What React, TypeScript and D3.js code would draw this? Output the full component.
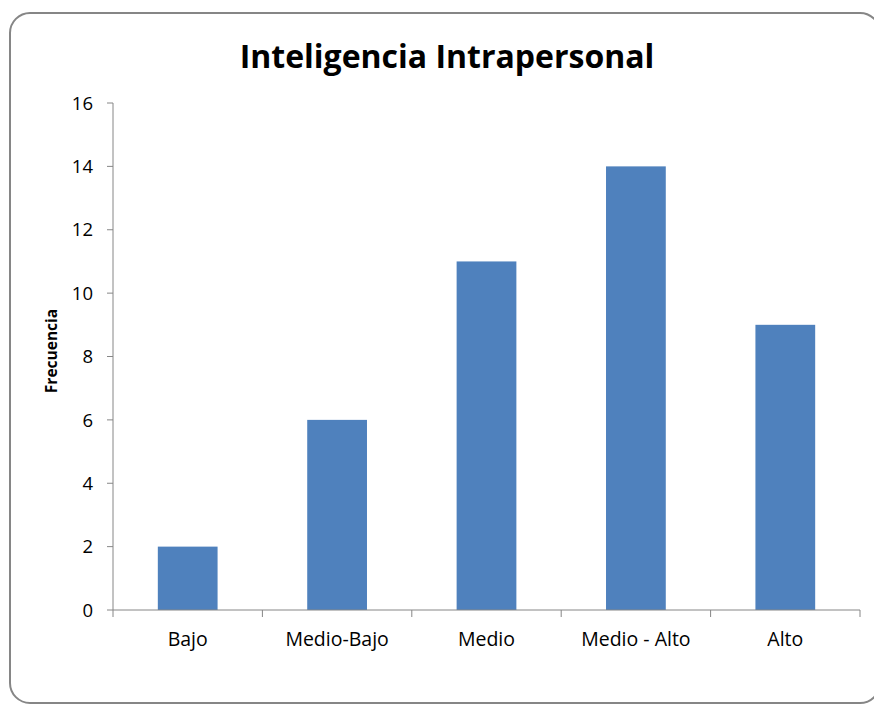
import React from "react";
import * as d3 from "d3";

const categories = ["Bajo", "Medio-Bajo", "Medio", "Medio - Alto", "Alto"];
const values = [2, 6, 11, 14, 9];
const yTicks = [0, 2, 4, 6, 8, 10, 12, 14, 16];
const title = "Inteligencia Intrapersonal";
const yTitle = "Frecuencia";

export default function App() {
  const W = 874, H = 704;
  const left = 113, right = 860, top = 103, bottom = 610;
  const x = d3.scaleBand<string>().domain(categories).range([left, right]).paddingInner(0).paddingOuter(0);
  const y = d3.scaleLinear().domain([0, 16]).range([bottom, top]);
  const bw = x.bandwidth() * 0.4;
  const font = "'Open Sans', 'Liberation Sans', sans-serif";
  const axisColor = "#868686";
  const boundaries = categories.map((c) => x(c)!).concat([right]);
  return (
    <svg width={W} height={H} style={{ position: "absolute", left: 0, top: 0 }}>
      <rect x={0} y={0} width={W} height={H} fill="#fff" />
      <rect x={10} y={13} width={870} height={690} rx={20} ry={20} fill="#fff" stroke="#868686" strokeWidth={2} />
      <text x={447} y={68} textAnchor="middle" fontFamily={font} fontWeight="bold" fontSize={32} fill="#000">{title}</text>
      <text transform={`translate(57,351) rotate(-90)`} textAnchor="middle" fontFamily={font} fontWeight="bold" fontSize={15.5} fill="#000">{yTitle}</text>
      {categories.map((c, i) => (
        <rect key={c} x={x(c)! + (x.bandwidth() - bw) / 2} y={y(values[i])} width={bw} height={y(0) - y(values[i])} fill="#4F81BD" />
      ))}
      <line x1={left} x2={left} y1={top} y2={bottom} stroke={axisColor} strokeWidth={1} />
      {yTicks.map((t) => (
        <g key={t}>
          <line x1={left - 6} x2={left} y1={y(t)} y2={y(t)} stroke={axisColor} />
          <text x={left - 20} y={y(t)} dy="0.36em" textAnchor="end" fontFamily={font} fontSize={18.5} fill="#000">{t}</text>
        </g>
      ))}
      <line x1={left} x2={right} y1={bottom} y2={bottom} stroke={axisColor} />
      {boundaries.map((b, i) => (
        <line key={i} x1={b} x2={b} y1={bottom} y2={bottom + 7} stroke={axisColor} />
      ))}
      {categories.map((c) => (
        <text key={c} x={x(c)! + x.bandwidth() / 2} y={646} textAnchor="middle" fontFamily={font} fontSize={19.5} fill="#000">{c}</text>
      ))}
    </svg>
  );
}
